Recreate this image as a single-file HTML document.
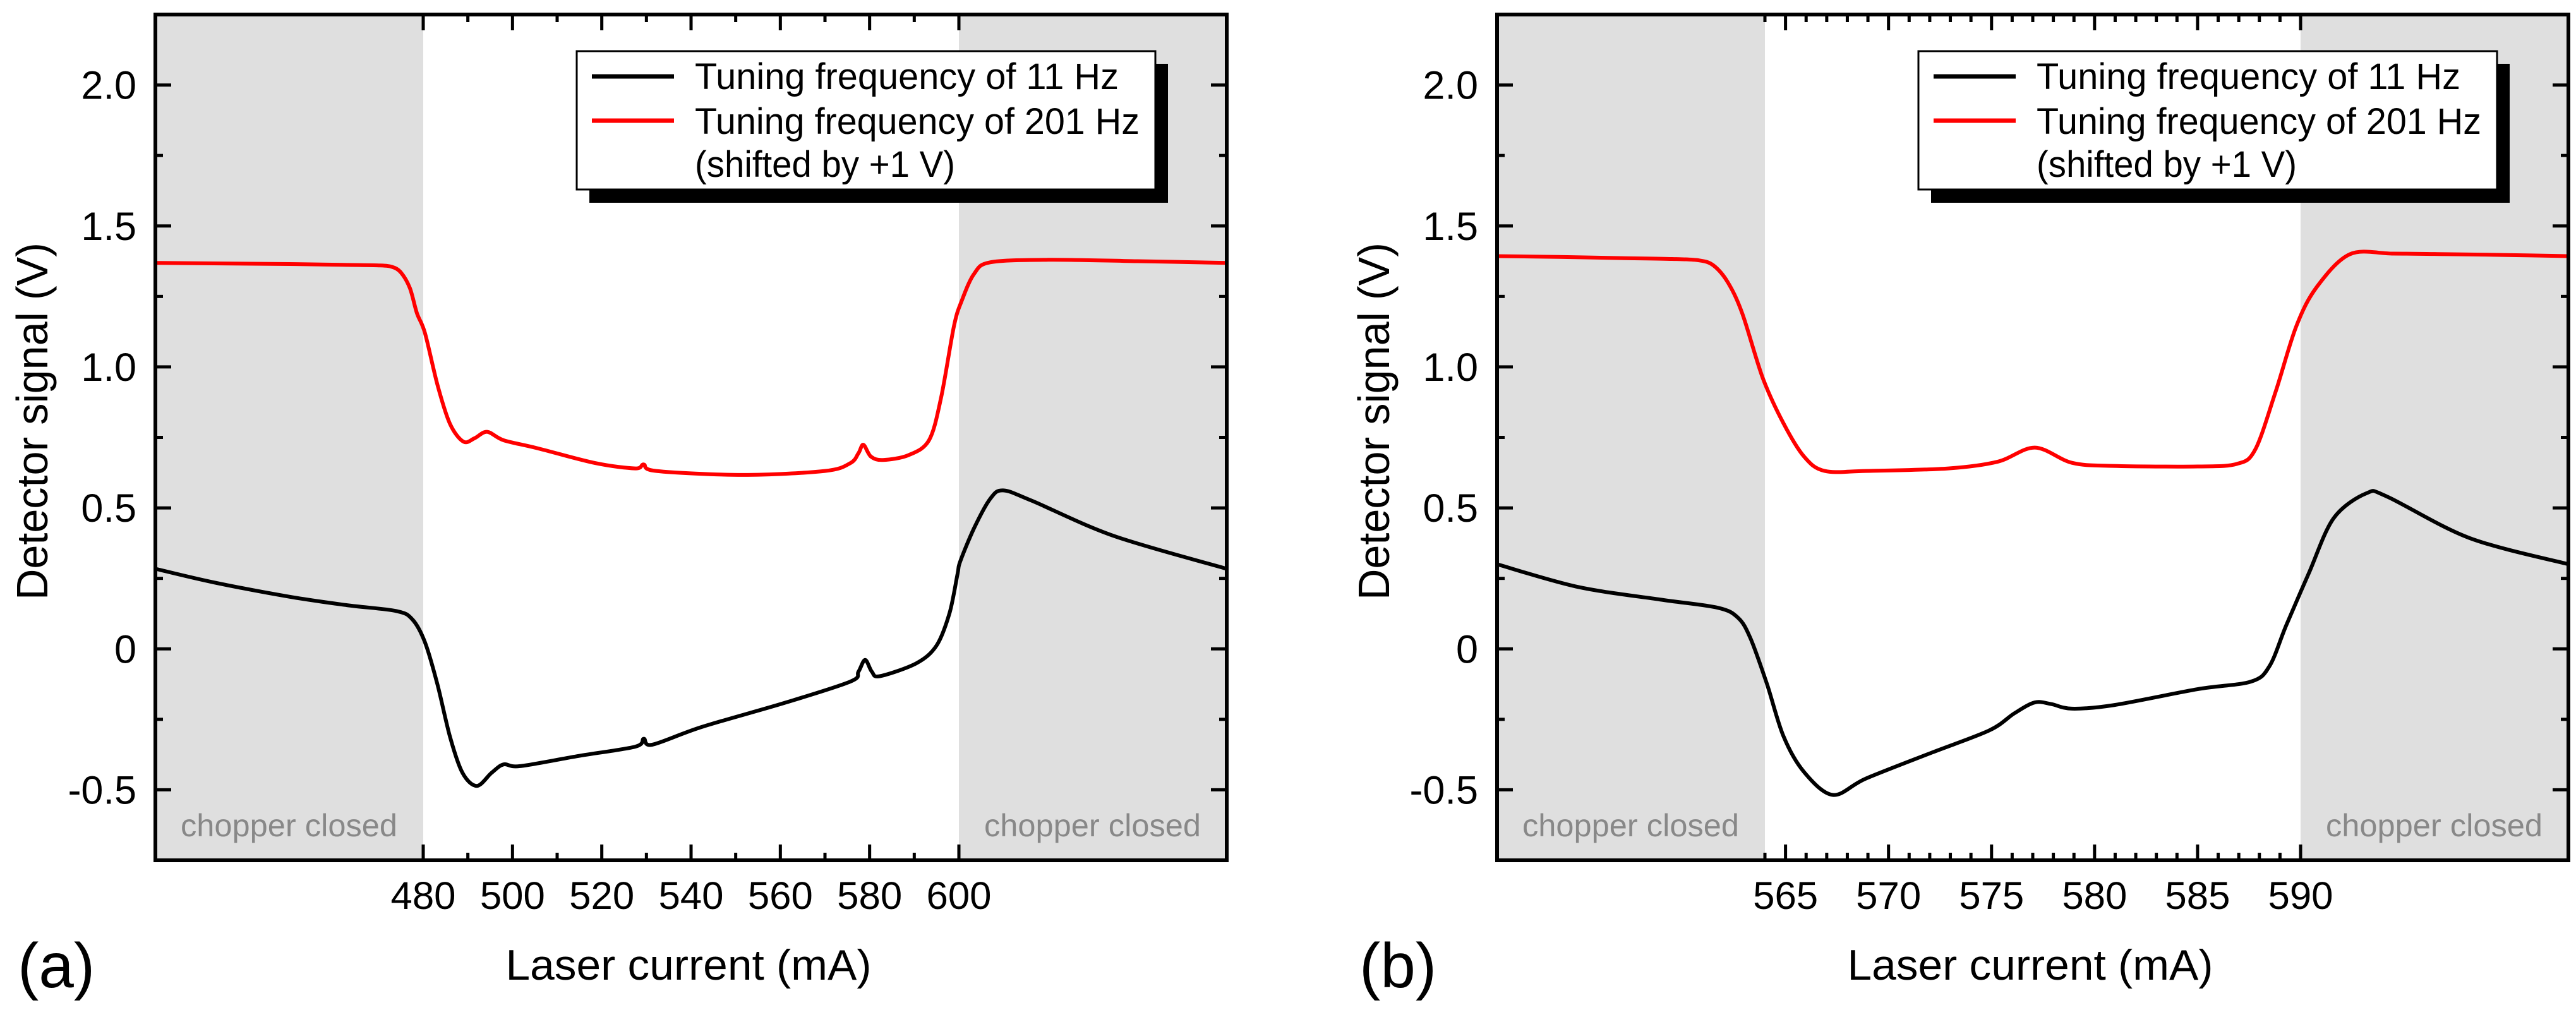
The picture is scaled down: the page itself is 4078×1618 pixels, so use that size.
<!DOCTYPE html>
<html><head><meta charset="utf-8">
<style>
html,body{margin:0;padding:0;background:#fff;}
svg{display:block;font-family:"Liberation Sans",Arial,sans-serif;}
</style></head>
<body>
<svg id="fig" width="4078" height="1618" viewBox="0 0 4078 1618" xmlns="http://www.w3.org/2000/svg"></svg>
<script>
// ---- Panel (a) data ----
const aXTicks = [480, 500, 520, 540, 560, 580, 600];
const aYTicks = [-0.5, 0, 0.5, 1.0, 1.5, 2.0];
const aYTickLabels = ["-0.5", "0", "0.5", "1.0", "1.5", "2.0"];
const aBlackX = [420,433,450,462.9,474,477.6,480.4,483.2,486,488.8,492,495.3,498,501.7,514.7,527.5,529.4,531.3,542.4,560.9,575.7,577.5,579,580.5,582.3,590.5,595,597.9,599.7,600.3,603.4,607,609.9,616.4,634.8,660];
const aBlackY = [0.284,0.236,0.185,0.155,0.134,0.104,0.023,-0.127,-0.312,-0.44,-0.486,-0.44,-0.41,-0.416,-0.38,-0.347,-0.319,-0.34,-0.277,-0.192,-0.116,-0.081,-0.039,-0.081,-0.097,-0.051,0.012,0.127,0.266,0.31,0.428,0.532,0.562,0.525,0.4,0.284];
const aRedX = [420,435,450,462,470,473,475,477,478.6,480.4,483.2,486,489,491.5,494.3,498,505.5,518.5,527.5,529.4,532.2,551.6,570,575.7,577.5,578.6,580.3,583,588.7,593.3,596,598.9,600.7,603.4,607,620,640,660];
const aRedY = [1.369,1.367,1.365,1.362,1.36,1.355,1.335,1.28,1.19,1.12,0.936,0.798,0.735,0.747,0.77,0.74,0.712,0.659,0.64,0.654,0.631,0.617,0.631,0.659,0.694,0.724,0.682,0.67,0.687,0.74,0.89,1.145,1.237,1.33,1.371,1.38,1.375,1.369];
// ---- Panel (b) data ----
const bXTicks = [565, 570, 575, 580, 585, 590];
const bYTicks = [-0.5, 0, 0.5, 1.0, 1.5, 2.0];
const bYTickLabels = ["-0.5", "0", "0.5", "1.0", "1.5", "2.0"];
const bBlackX = [551,554.9,558.9,561.7,562.7,563.3,564.1,564.9,565.9,567.3,568.9,572.1,574.9,576.1,577.1,577.9,578.9,580.9,585,587.6,588.5,589.3,590.4,591.6,593.2,594.2,598.2,603];
const bBlackY = [0.30,0.22,0.175,0.146,0.11,0.037,-0.125,-0.31,-0.437,-0.518,-0.46,-0.368,-0.289,-0.229,-0.19,-0.196,-0.212,-0.2,-0.143,-0.116,-0.06,0.083,0.268,0.463,0.552,0.54,0.393,0.30];
const bRedX = [551,554,557,559.5,560.8,561.5,562.2,562.9,563.9,564.9,565.9,566.9,568.9,572.9,575.3,577.1,578.9,580.9,585,586.9,587.8,588.8,589.8,590.8,592.4,594.5,597,600,603];
const bRedY = [1.393,1.39,1.386,1.383,1.378,1.36,1.3,1.19,0.96,0.8,0.682,0.631,0.631,0.64,0.664,0.714,0.66,0.649,0.647,0.656,0.707,0.915,1.146,1.285,1.4,1.402,1.4,1.397,1.393];

const NS = "http://www.w3.org/2000/svg";
const svg = document.getElementById('fig');
function mk(tag, attrs, parent) {
  const e = document.createElementNS(NS, tag);
  for (const k in attrs) e.setAttribute(k, attrs[k]);
  (parent || svg).appendChild(e);
  return e;
}
function smoothPath(P) {
  let d = 'M' + P[0][0].toFixed(1) + ',' + P[0][1].toFixed(1);
  for (let i = 0; i < P.length - 1; i++) {
    const p0 = P[Math.max(0, i - 1)], p1 = P[i], p2 = P[i + 1], p3 = P[Math.min(P.length - 1, i + 2)];
    const t = 0.16;
    const c1x = p1[0] + (p2[0] - p0[0]) * t, c1y = p1[1] + (p2[1] - p0[1]) * t;
    const c2x = p2[0] - (p3[0] - p1[0]) * t, c2y = p2[1] - (p3[1] - p1[1]) * t;
    d += ' C' + c1x.toFixed(1) + ',' + c1y.toFixed(1) + ' ' + c2x.toFixed(1) + ',' + c2y.toFixed(1) + ' ' + p2[0].toFixed(1) + ',' + p2[1].toFixed(1);
  }
  return d;
}

function panel(cfg) {
  const g = mk('g', {});
  
  
  const L = cfg.left, R = L + 1696, T = 23, B = 1362;
  const sx = v => L + (v - cfg.xmin) / (cfg.xmax - cfg.xmin) * (R - L);
  const sy = v => B - (v - (-0.75)) / 3.0 * (B - T);
  const s1 = mk('rect', {x: L, y: T, width: sx(cfg.shadeL) - L, height: B - T, fill: '#dfdfdf'}, g);
  
  
  const s2 = mk('rect', {x: sx(cfg.shadeR), y: T, width: R - sx(cfg.shadeR), height: B - T, fill: '#dfdfdf'}, g);
  
  
  const c1 = mk('text', {x: L + 40, y: 1324, 'font-size': 50, fill: '#888', textLength: 343, lengthAdjust: 'spacingAndGlyphs'}, g);
  c1.textContent = 'chopper closed';
  
  
  const c2 = mk('text', {x: R - 384, y: 1324, 'font-size': 50, fill: '#888', textLength: 343, lengthAdjust: 'spacingAndGlyphs'}, g);
  c2.textContent = 'chopper closed';
  
  
  function series(xs, ys, color, name) {
    const P = xs.map((x, i) => [sx(x), sy(ys[i])]);
    const p = mk('path', {d: smoothPath(P), fill: 'none', stroke: color, 'stroke-width': 6, 'stroke-linejoin': 'round', 'stroke-linecap': 'round'}, g);
    
    
  }
  series(cfg.redX, cfg.redY, '#ff0000', 'series-201hz');
  series(cfg.blackX, cfg.blackY, '#000000', 'series-11hz');
  for (let v = -0.75; v <= 2.2501; v += 0.25) {
    const major = Math.abs(v * 2 - Math.round(v * 2)) < 1e-6;
    const len = major ? 25 : 12;
    const y = sy(v);
    const t1 = mk('line', {x1: L, x2: L + len, y1: y, y2: y, stroke: '#000', 'stroke-width': 5}, g);
    
    
    const t2 = mk('line', {x1: R, x2: R - len, y1: y, y2: y, stroke: '#000', 'stroke-width': 5}, g);
    
    
  }
  cfg.yTicks.forEach((v, i) => {
    const t = mk('text', {x: L - 30, y: sy(v) + 22, 'font-size': 63, 'text-anchor': 'end'}, g);
    t.textContent = cfg.yLabels[i];
    
    
  });
  for (let v = cfg.minorFrom; v <= cfg.minorTo + 1e-6; v += cfg.minorStep) {
    const major = cfg.xTicks.some(m => Math.abs(m - v) < 1e-6);
    const len = major ? 25 : 12;
    const x = sx(v);
    const t1 = mk('line', {x1: x, x2: x, y1: B, y2: B - len, stroke: '#000', 'stroke-width': 5}, g);
    
    
    const t2 = mk('line', {x1: x, x2: x, y1: T, y2: T + len, stroke: '#000', 'stroke-width': 5}, g);
    
    
  }
  cfg.xTicks.forEach(v => {
    const t = mk('text', {x: sx(v), y: 1439, 'font-size': 61, 'text-anchor': 'middle', textLength: 103, lengthAdjust: 'spacingAndGlyphs'}, g);
    t.textContent = String(v);
    
    
  });
  const fr = mk('rect', {x: L, y: T, width: R - L, height: B - T, fill: 'none', stroke: '#000', 'stroke-width': 6}, g);
  
  
  const xt = mk('text', {x: L + 844, y: 1551, 'font-size': 68, 'text-anchor': 'middle', textLength: 579, lengthAdjust: 'spacingAndGlyphs'}, g);
  xt.textContent = 'Laser current (mA)';
  
  
  const yt = mk('text', {x: 0, y: 0, 'font-size': 70, 'text-anchor': 'middle', textLength: 566, lengthAdjust: 'spacingAndGlyphs', transform: 'translate(' + (L - 171) + ',667) rotate(-90)'}, g);
  yt.textContent = 'Detector signal (V)';
  
  
  const pl = mk('text', {x: L - 218, y: 1563, 'font-size': 100}, g);
  pl.textContent = cfg.label;
  
  
  const lg = mk('g', {}, g);
  
  
  const lx = L + 667;
  mk('rect', {x: lx + 20, y: 101, width: 916, height: 220, fill: '#000'}, lg);
  mk('rect', {x: lx, y: 81, width: 916, height: 219, fill: '#fff', stroke: '#000', 'stroke-width': 3}, lg);
  const e1 = mk('line', {x1: lx + 24, x2: lx + 154, y1: 121, y2: 121, stroke: '#000', 'stroke-width': 7}, lg);
  
  
  const e2 = mk('line', {x1: lx + 24, x2: lx + 154, y1: 191, y2: 191, stroke: '#ff0000', 'stroke-width': 7}, lg);
  
  
  const lt1 = mk('text', {x: lx + 187, y: 141, 'font-size': 58, textLength: 671, lengthAdjust: 'spacingAndGlyphs'}, lg);
  lt1.textContent = 'Tuning frequency of 11 Hz';
  
  
  const lt2 = mk('text', {x: lx + 187, y: 212, 'font-size': 58, textLength: 704, lengthAdjust: 'spacingAndGlyphs'}, lg);
  lt2.textContent = 'Tuning frequency of 201 Hz';
  
  
  const lt3 = mk('text', {x: lx + 187, y: 280, 'font-size': 58, textLength: 412, lengthAdjust: 'spacingAndGlyphs'}, lg);
  lt3.textContent = '(shifted by +1 V)';
  
  
}

panel({name: 'panel-a', left: 246, xmin: 420, xmax: 660, shadeL: 480, shadeR: 600,
  xTicks: aXTicks, yTicks: aYTicks, yLabels: aYTickLabels, minorFrom: 480, minorTo: 600, minorStep: 10,
  blackX: aBlackX, blackY: aBlackY, redX: aRedX, redY: aRedY, label: '(a)'});
panel({name: 'panel-b', left: 2370, xmin: 551, xmax: 603, shadeL: 564, shadeR: 590,
  xTicks: bXTicks, yTicks: bYTicks, yLabels: bYTickLabels, minorFrom: 564, minorTo: 590, minorStep: 1,
  blackX: bBlackX, blackY: bBlackY, redX: bRedX, redY: bRedY, label: '(b)'});
</script>
</body></html>
